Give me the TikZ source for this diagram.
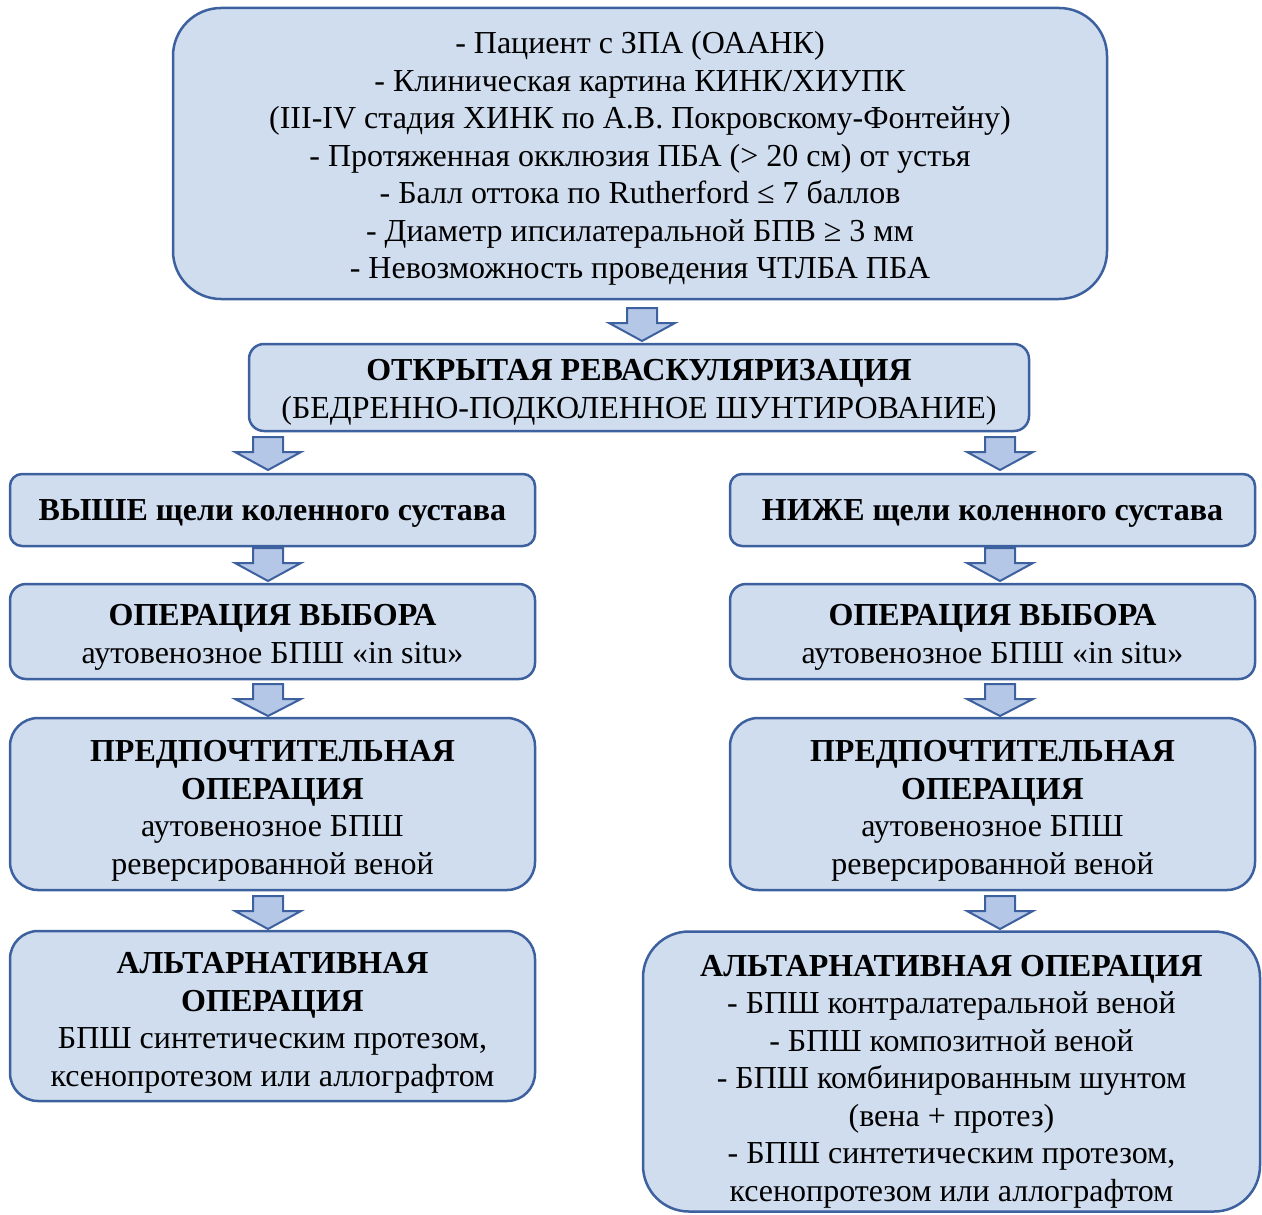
\documentclass[tikz,border=0pt]{standalone}
\usepackage{fontspec}
\setmainfont{Liberation Serif}
\definecolor{boxfill}{RGB}{208,221,239}
\definecolor{boxline}{RGB}{61,96,158}
\definecolor{arrfill}{RGB}{180,199,231}
\tikzset{
  box/.style={draw=boxline, line width=1.25pt, fill=boxfill, inner sep=0pt},
  txt/.style={align=center, inner sep=0pt, font=\fontsize{16}{18.75}\selectfont},
  arr/.style={draw=boxline, line width=1pt, fill=arrfill, line join=miter}
}
\newcommand\blockarrow[3]{%
  \draw[arr] (#1-15,#2) -- (#1+15,#2) -- (#1+15,#2+15) -- (#1+33,#2+15) -- (#1,#3)
    -- (#1-33,#2+15) -- (#1-15,#2+15) -- cycle;}
\begin{document}
\begin{tikzpicture}[x=0.5pt,y=-0.5pt]
\useasboundingbox (0,0) rectangle (1262,1214);
\node[box, minimum width=467pt, minimum height=145.5pt, rounded corners=24pt] (top) at (640,153.5) {};
\node[txt] (topt) at ([yshift=-2.5pt]top.center)
 {- Пациент с ЗПА (ОААНК)\\
  - Клиническая картина КИНК/ХИУПК\\
  (III-IV стадия ХИНК по А.В. Покровскому-Фонтейну)\\
  - Протяженная окклюзия ПБА (> 20 см) от устья\\
  - Балл оттока по Rutherford ≤ 7 баллов\\
  - Диаметр ипсилатеральной БПВ ≥ 3 мм\\
  - Невозможность проведения ЧТЛБА ПБА};
\node[box, minimum width=390pt, minimum height=43.5pt, rounded corners=7.5pt] (open) at (639,387.5) {};
\node[txt] (opent) at ([yshift=-2.5pt]open.center)
 {\textbf{ОТКРЫТАЯ РЕВАСКУЛЯРИЗАЦИЯ}\\(БЕДРЕННО-ПОДКОЛЕННОЕ ШУНТИРОВАНИЕ)};
\node[box, minimum width=262.5pt, minimum height=36pt, rounded corners=6pt] (a1) at (272.5,510) {};
\node[txt] (a1t) at ([yshift=-1.5pt]a1.center) {\textbf{ВЫШЕ щели коленного сустава}};
\node[box, minimum width=262.5pt, minimum height=36pt, rounded corners=6pt] (b1) at (992.5,510) {};
\node[txt] (b1t) at ([yshift=-1.5pt]b1.center) {\textbf{НИЖЕ щели коленного сустава}};
\node[box, minimum width=262.5pt, minimum height=47.5pt, rounded corners=8pt] (a2) at (272.5,631.5) {};
\node[txt] (a2t) at ([yshift=-3pt]a2.center) {\textbf{ОПЕРАЦИЯ ВЫБОРА}\\аутовенозное БПШ «in situ»};
\node[box, minimum width=262.5pt, minimum height=47.5pt, rounded corners=8pt] (b2) at (992.5,631.5) {};
\node[txt] (b2t) at ([yshift=-3pt]b2.center) {\textbf{ОПЕРАЦИЯ ВЫБОРА}\\аутовенозное БПШ «in situ»};
\node[box, minimum width=262.5pt, minimum height=86pt, rounded corners=14pt] (a3) at (272.5,804) {};
\node[txt] (a3t) at ([yshift=-3.5pt]a3.center)
 {\textbf{ПРЕДПОЧТИТЕЛЬНАЯ}\\\textbf{ОПЕРАЦИЯ}\\аутовенозное БПШ\\реверсированной веной};
\node[box, minimum width=262.5pt, minimum height=86pt, rounded corners=14pt] (b3) at (992.5,804) {};
\node[txt] (b3t) at ([yshift=-3.5pt]b3.center)
 {\textbf{ПРЕДПОЧТИТЕЛЬНАЯ}\\\textbf{ОПЕРАЦИЯ}\\аутовенозное БПШ\\реверсированной веной};
\node[box, minimum width=262.5pt, minimum height=85pt, rounded corners=14pt] (a4) at (272.5,1016) {};
\node[txt] (a4t) at ([yshift=-3.5pt]a4.center)
 {\textbf{АЛЬТАРНАТИВНАЯ}\\\textbf{ОПЕРАЦИЯ}\\БПШ синтетическим протезом,\\ксенопротезом или аллографтом};
\node[box, minimum width=308.5pt, minimum height=140pt, rounded corners=23pt] (b4) at (951.5,1071.5) {};
\node[txt] (b4t) at ([yshift=-5pt]b4.center)
 {\textbf{АЛЬТАРНАТИВНАЯ ОПЕРАЦИЯ}\\- БПШ контралатеральной веной\\- БПШ композитной веной\\- БПШ комбинированным шунтом\\(вена + протез)\\- БПШ синтетическим протезом,\\ксенопротезом или аллографтом};
\blockarrow{642}{308}{341}
\blockarrow{268}{437}{470}
\blockarrow{1000}{437}{470}
\blockarrow{268}{548}{581}
\blockarrow{1000}{548}{581}
\blockarrow{268}{684}{716}
\blockarrow{1000}{684}{716}
\blockarrow{268}{896}{929}
\blockarrow{1000}{896}{929}
\end{tikzpicture}
\end{document}
